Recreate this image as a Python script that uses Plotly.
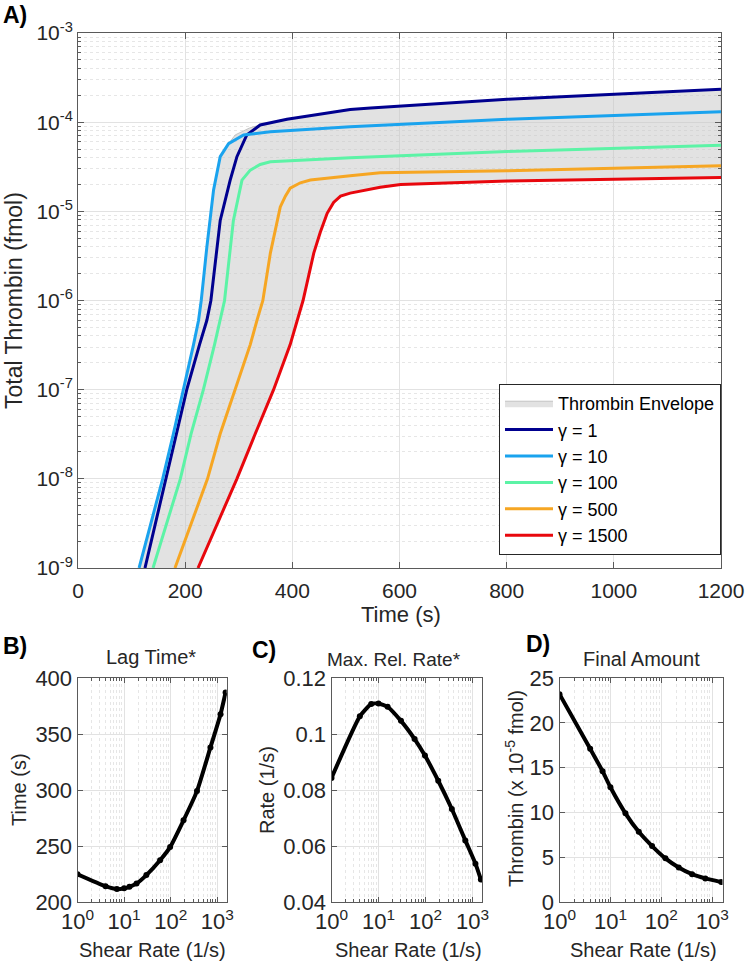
import plotly.graph_objects as go

# ---------------- Panel A data (time in s, total thrombin in fmol) ----------------
time_g1 = [125, 164, 184.4, 203, 226.8, 240.5, 248, 265.4, 284, 296.6, 315, 340, 390, 508, 546, 801, 1200]
thr_g1 = [1.0e-9, 1.0e-8, 3.2e-8, 1.0e-7, 3.2e-7, 6.0e-7, 1.0e-6, 7.9e-6, 2.24e-5, 4.1e-5, 7.2e-5,
          9.3e-5, 1.08e-4, 1.39e-4, 1.44e-4, 1.81e-4, 2.34e-4]

time_g10 = [114, 158, 178, 197, 215.6, 225, 230, 240.5, 253, 265.4, 281, 309, 359, 508, 801, 1200]
thr_g10 = [1.0e-9, 1.0e-8, 3.2e-8, 1.0e-7, 3.2e-7, 6.0e-7, 1.0e-6, 4.0e-6, 1.74e-5, 4.1e-5, 5.75e-5,
           7.2e-5, 7.8e-5, 8.9e-5, 1.08e-4, 1.31e-4]

time_g100 = [140, 191, 211, 234, 254.8, 265.4, 273.5, 290, 306, 321.5, 340, 359, 508, 801, 1200]
thr_g100 = [1.0e-9, 1.0e-8, 3.2e-8, 1.0e-7, 3.2e-7, 6.0e-7, 1.0e-6, 7.9e-6, 2.24e-5, 2.9e-5, 3.35e-5,
            3.6e-5, 4.0e-5, 4.7e-5, 5.5e-5]

time_g500 = [181, 241.7, 265.4, 293.4, 321.5, 334, 345, 359, 377.5, 387, 396, 415, 433.6, 508, 564, 801, 1200]
thr_g500 = [1.0e-9, 1.0e-8, 3.2e-8, 1.0e-7, 3.2e-7, 6.0e-7, 1.0e-6, 3.4e-6, 1.12e-5, 1.48e-5, 1.82e-5,
            2.09e-5, 2.24e-5, 2.5e-5, 2.7e-5, 2.85e-5, 3.25e-5]

time_g1500 = [224, 296.5, 330.8, 365, 396, 408.7, 420, 440, 452, 465, 477, 490, 508, 564, 602, 801, 1200]
thr_g1500 = [1.0e-9, 1.0e-8, 3.2e-8, 1.0e-7, 3.2e-7, 6.0e-7, 1.0e-6, 3.4e-6, 5.8e-6, 9.5e-6, 1.26e-5,
             1.48e-5, 1.6e-5, 1.86e-5, 2.0e-5, 2.19e-5, 2.4e-5]

# upper boundary of the thrombin envelope (lower boundary is the gamma = 1500 curve)
env_top_time = [114, 158, 178, 197, 215.6, 225, 230, 240.5, 253, 265.4, 281, 293.5, 306, 320, 340, 390,
                508, 801, 1200]
env_top_thr = [1.0e-9, 1.0e-8, 3.2e-8, 1.0e-7, 3.2e-7, 6.0e-7, 1.0e-6, 4.0e-6, 1.74e-5, 4.1e-5, 5.75e-5,
               7.2e-5, 7.9e-5, 8.6e-5, 9.3e-5, 1.08e-4, 1.39e-4, 1.81e-4, 2.34e-4]

gamma_labels = ["γ = 1", "γ = 10", "γ = 100", "γ = 500", "γ = 1500"]
gamma_colors = ["#00008F", "#1AA3EE", "#5CF3A6", "#F6A623", "#E8070D"]

x_ticks_A = [0, 200, 400, 600, 800, 1000, 1200]
y_ticks_A = [1e-9, 1e-8, 1e-7, 1e-6, 1e-5, 1e-4, 1e-3]
y_ticktext_A = ["10<sup>-9</sup>", "10<sup>-8</sup>", "10<sup>-7</sup>", "10<sup>-6</sup>",
                "10<sup>-5</sup>", "10<sup>-4</sup>", "10<sup>-3</sup>"]

# ---------------- Panels B-D data ----------------
shear_B = [1, 4, 7, 10, 13, 18.5, 30, 59, 97, 188, 365, 710, 1170, 1500]
lag_time = [224.8, 214.1, 211.5, 212.2, 213.6, 216.5, 224, 237.3, 249, 272.9, 299, 338, 367.7, 387]

shear_C = [1, 4, 7, 10, 15.6, 30, 58.6, 97, 186, 362, 700, 1150, 1500]
max_rate = [0.0843, 0.1063, 0.1107, 0.1109, 0.1097, 0.1047, 0.0982, 0.0923, 0.0833, 0.0732, 0.0620,
            0.0537, 0.048]

shear_D = [1, 4, 7, 10, 19.7, 36, 65.7, 120, 219, 400, 729, 1500]
final_amount = [23.2, 17.1, 14.6, 12.8, 9.9, 7.83, 6.24, 4.87, 3.86, 3.11, 2.63, 2.22]

shear_ticks = [1, 10, 100, 1000]
shear_ticktext = ["10<sup>0</sup>", "10<sup>1</sup>", "10<sup>2</sup>", "10<sup>3</sup>"]

# ---------------- layout helpers ----------------
W, H = 747, 966
FONT = "Liberation Sans, Arial, Helvetica, sans-serif"
TXT = "#262626"
AXC = "#5a5a5a"
GRID = "#E2E2E2"
MGRID = "#E6E6E6"


def fx(p):
    return p / W


def fy(p):
    return 1 - p / H


minor_log = []
for dec in [1e-9, 1e-8, 1e-7, 1e-6, 1e-5, 1e-4]:
    for k in range(2, 10):
        minor_log.append(k * dec)
minor_shear = []
for dec in [1, 10, 100]:
    for k in range(2, 10):
        minor_shear.append(k * dec)

fig = go.Figure()

# envelope polygon
fig.add_trace(go.Scatter(
    x=env_top_time + time_g1500[::-1], y=env_top_thr + thr_g1500[::-1],
    fill="toself", fillcolor="rgba(198,198,198,0.5)", mode="lines",
    line=dict(color="rgba(175,175,175,0.7)", width=1),
    name="Thrombin Envelope", xaxis="x", yaxis="y", hoverinfo="skip"))

series_A = [(time_g1, thr_g1), (time_g10, thr_g10), (time_g100, thr_g100),
            (time_g500, thr_g500), (time_g1500, thr_g1500)]
for (t, v), lab, col in zip(series_A, gamma_labels, gamma_colors):
    fig.add_trace(go.Scatter(x=t, y=v, mode="lines", line=dict(color=col, width=3),
                             name=lab, xaxis="x", yaxis="y"))

for xs, ys, ax in [(shear_B, lag_time, "2"), (shear_C, max_rate, "3"), (shear_D, final_amount, "4")]:
    fig.add_trace(go.Scatter(x=xs, y=ys, mode="lines+markers",
                             line=dict(color="black", width=4, shape="spline", smoothing=0.5),
                             marker=dict(color="black", size=6),
                             showlegend=False, xaxis="x" + ax, yaxis="y" + ax))

base_axis = dict(showline=True, linecolor=AXC, linewidth=1, mirror="ticks", ticks="inside",
                 ticklen=6, tickcolor=AXC, tickwidth=1, zeroline=False, automargin=False,
                 tickfont=dict(family=FONT, size=22, color=TXT), showgrid=True, gridcolor=GRID,
                 gridwidth=1)

layout = dict(
    width=W, height=H, margin=dict(l=0, r=0, t=0, b=0, pad=0, autoexpand=False),
    paper_bgcolor="white", plot_bgcolor="white",
    font=dict(family=FONT, color=TXT),
    showlegend=True,
    legend=dict(x=fx(721), xanchor="right", y=fy(555), yanchor="bottom", bgcolor="white",
                bordercolor=TXT, borderwidth=1, font=dict(family=FONT, size=18, color="black"),
                itemwidth=48, tracegroupgap=0),
)

layout["xaxis"] = dict(base_axis, domain=[fx(78), fx(721)], range=[0, 1200], tickvals=x_ticks_A,
                       anchor="y", ticklabelstandoff=4, tickfont=dict(family=FONT, size=21, color=TXT))
layout["yaxis"] = dict(base_axis, domain=[fy(568), fy(33)], type="log", range=[-9, -3],
                       tickvals=y_ticks_A, ticktext=y_ticktext_A, anchor="x",
                       tickfont=dict(family=FONT, size=21, color=TXT),
                       minor=dict(tickvals=minor_log, ticks="inside", ticklen=3, tickcolor=AXC,
                                  showgrid=True, gridcolor=MGRID, griddash="dot"))

panel_x = {"2": (77.5, 226.7), "3": (331.5, 482), "4": (559.5, 722.5)}
panel_y = {"2": ([200, 400], 50), "3": ([0.04, 0.12], 0.02), "4": ([0, 25], 5)}
for ax in ["2", "3", "4"]:
    x0, x1 = panel_x[ax]
    layout["xaxis" + ax] = dict(base_axis, domain=[fx(x0), fx(x1)], type="log", range=[0, 3.2],
                                tickvals=shear_ticks, ticktext=shear_ticktext, anchor="y" + ax,
                                ticklen=5,
                                minor=dict(tickvals=minor_shear, ticks="inside", ticklen=3,
                                           tickcolor=AXC, showgrid=True, gridcolor=MGRID,
                                           griddash="dot"))
    rng, dt = panel_y[ax]
    layout["yaxis" + ax] = dict(base_axis, domain=[fy(902), fy(678)], range=rng, dtick=dt,
                                tick0=rng[0], anchor="x" + ax, ticklen=5)

annotations = []


def ann(text, x, y, size, angle=0, bold=False, color=TXT, xanchor="center"):
    annotations.append(dict(text=("<b>%s</b>" % text) if bold else text, x=fx(x), y=fy(y),
                            xref="paper", yref="paper", showarrow=False, textangle=angle,
                            xanchor=xanchor, yanchor="middle",
                            font=dict(family=FONT, size=size, color=color)))


ann("A)", 1, 15, 23, bold=True, color="black", xanchor="left")
ann("B)", 1, 646, 23, bold=True, color="black", xanchor="left")
ann("C)", 250, 650, 23, bold=True, color="black", xanchor="left")
ann("D)", 524, 644, 23, bold=True, color="black", xanchor="left")

ann("Total Thrombin (fmol)", 14, 301, 23, angle=-90)
ann("Time (s)", 401, 614, 22)

ann("Lag Time*", 151, 657, 20)
ann("Max. Rel. Rate*", 394, 659, 19)
ann("Final Amount", 641, 659, 20)

ann("Time (s)", 19, 790, 20, angle=-90)
ann("Rate (1/s)", 267, 790, 20, angle=-90)
ann("Thrombin (x 10<sup>-5</sup> fmol)", 514, 789, 20, angle=-90)

ann("Shear Rate (1/s)", 152, 950, 20)
ann("Shear Rate (1/s)", 408, 950, 20)
ann("Shear Rate (1/s)", 643, 950, 20)

layout["annotations"] = annotations
fig.update_layout(**layout)

fig.write_html("out.html", config={"displayModeBar": False},
               post_script="document.body.style.margin='0';document.body.style.padding='0';")
